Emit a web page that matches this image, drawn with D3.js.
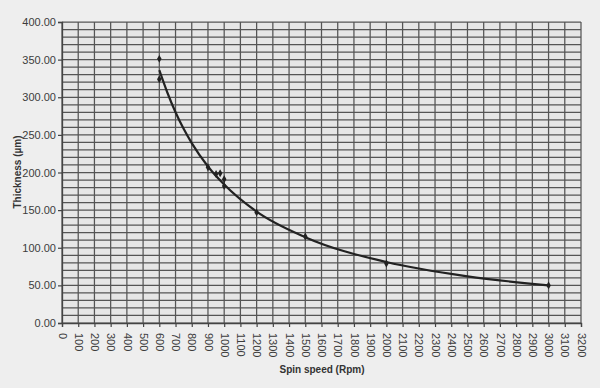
<!DOCTYPE html>
<html><head><meta charset="utf-8">
<script src="https://cdn.jsdelivr.net/npm/d3@7"></script>
<style>
html,body{margin:0;padding:0;background:#eeeeee;}
svg{display:block;font-family:Arial,"Liberation Sans",sans-serif;}
</style></head>
<body><svg id="c" width="600" height="388"></svg>
<script>
// Measured points (spin speed in rpm, thickness in µm)
const speeds = [600, 600, 900, 950, 975, 1000, 1000, 1200, 1500, 2000, 3000];
const thickness = [351, 324, 207, 198, 199, 191, 182, 147, 115, 79, 50];
// Trend line
const trendSpeeds = [600, 650, 700, 750, 800, 900, 1000, 1200, 1500, 2000, 2500, 3000];
const trendThickness = [336, 306, 280, 258, 239, 208, 184, 148, 114, 81, 62, 50];
// Axis ticks
const xTicks = d3.range(0, 3201, 100);
const yTicks = [0, 50, 100, 150, 200, 250, 300, 350, 400];
const yGrid = d3.range(0, 401, 10);

const svg = d3.select("#c");
const m = {l: 62, r: 19, t: 22, b: 65};
const W = 600, H = 388;
const x = d3.scaleLinear().domain([0, 3200]).range([m.l, W - m.r]);
const y = d3.scaleLinear().domain([0, 400]).range([H - m.b, m.t]);

svg.append("rect").attr("width", W).attr("height", H).attr("fill", "#eeeeee");
svg.append("rect").attr("x", x(0)).attr("y", y(400))
  .attr("width", x(3200) - x(0)).attr("height", y(0) - y(400)).attr("fill", "#e6e6e6");

const grid = svg.append("g").attr("stroke", "#555").attr("stroke-width", 1.25);
grid.selectAll("line.h").data(yGrid).join("line").attr("class", "h")
  .attr("x1", x(0)).attr("x2", x(3200)).attr("y1", d => y(d)).attr("y2", d => y(d));
grid.selectAll("line.v").data(xTicks).join("line").attr("class", "v")
  .attr("y1", y(0)).attr("y2", y(400)).attr("x1", d => x(d)).attr("x2", d => x(d));

// Axes
const xAxis = svg.append("g").attr("transform", `translate(0,${y(0)})`)
  .call(d3.axisBottom(x).tickValues(xTicks).tickSize(4).tickPadding(0).tickFormat(d3.format("d")));
xAxis.select(".domain").attr("stroke", "#444").attr("stroke-width", 1.3);
xAxis.selectAll(".tick line").attr("stroke", "#444").attr("stroke-width", 1.2);
xAxis.selectAll(".tick text")
  .attr("transform", "rotate(90)")
  .attr("x", 10).attr("y", 0).attr("dy", "0.35em")
  .attr("text-anchor", "start")
  .attr("fill", "#3c3c3c").style("font-size", "11px");

const yAxis = svg.append("g").attr("transform", `translate(${x(0)},0)`)
  .call(d3.axisLeft(y).tickValues(yTicks).tickSize(4).tickPadding(2).tickFormat(d3.format(".2f")));
yAxis.select(".domain").attr("stroke", "#444").attr("stroke-width", 1.3);
yAxis.selectAll(".tick line").attr("stroke", "#444").attr("stroke-width", 1.2);
yAxis.selectAll(".tick text").attr("fill", "#3c3c3c").style("font-size", "11px");

// Trend line
const line = d3.line().x(d => x(d[0])).y(d => y(d[1])).curve(d3.curveMonotoneX);
svg.append("path").datum(d3.zip(trendSpeeds, trendThickness))
  .attr("d", line).attr("fill", "none").attr("stroke", "#222").attr("stroke-width", 2.2);

// Markers
svg.append("g").selectAll("path").data(d3.zip(speeds, thickness)).join("path")
  .attr("d", d3.symbol().type(d3.symbolDiamond).size(18))
  .attr("transform", d => `translate(${x(d[0])},${y(d[1])})`)
  .attr("fill", "#222");

// Titles
svg.append("text").attr("x", 322).attr("y", 373).attr("text-anchor", "middle")
  .attr("font-weight", "bold").attr("font-size", "10px").attr("fill", "#333")
  .text("Spin speed (Rpm)");
svg.append("text").attr("transform", "translate(21,172) rotate(-90)").attr("text-anchor", "middle")
  .attr("font-weight", "bold").attr("font-size", "10px").attr("fill", "#333")
  .text("Thickness (µm)");
</script></body></html>
